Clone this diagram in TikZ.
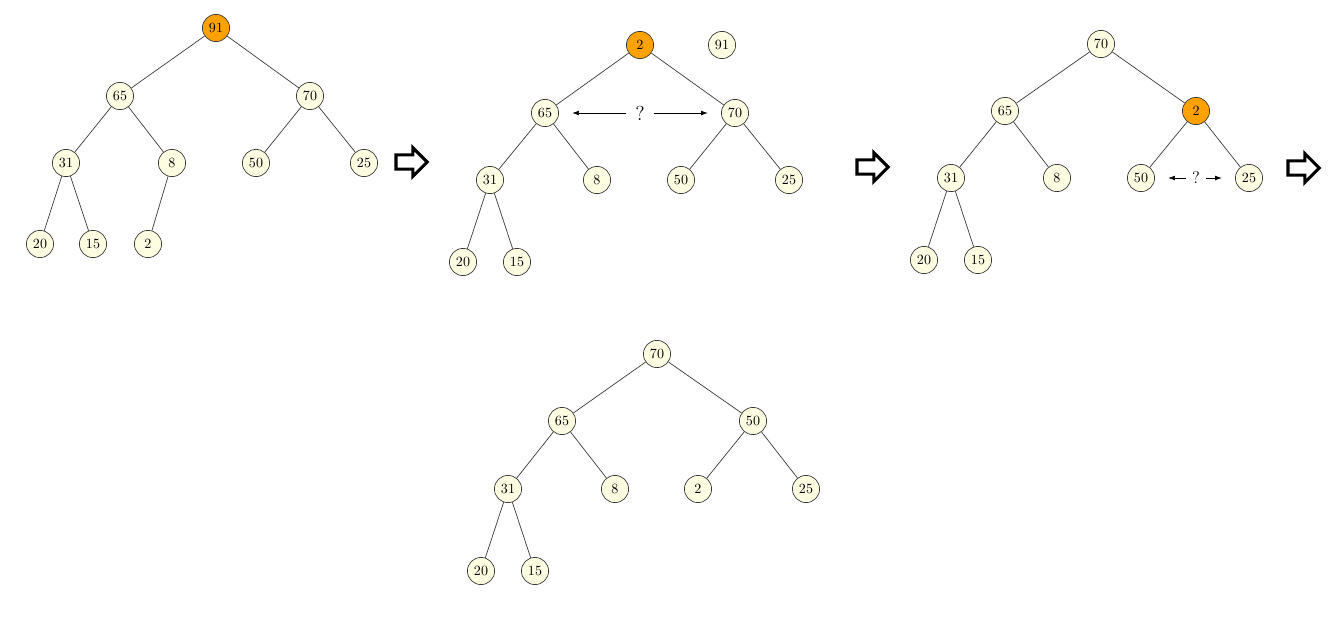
\documentclass[tikz,border=0pt]{standalone}
\usepackage{tikz}
\usetikzlibrary{arrows.meta,shapes.arrows}
\definecolor{heapCream}{HTML}{FDFDE2}
\definecolor{heapOrange}{HTML}{FFA200}
\definecolor{heapLine}{HTML}{3A3A3A}

\begin{document}
\begin{tikzpicture}[x=0.025cm,y=-0.025cm,
    key/.style={circle,draw=heapLine,line width=0.5pt,fill=heapCream,
                minimum size=0.68cm,inner sep=0pt},
    hot/.style={key,fill=heapOrange},
    link/.style={draw=heapLine,line width=0.5pt},
    probe/.style={-{Latex[length=0.17cm,width=0.12cm]},line width=0.5pt,
                  shorten >=0.33cm},
    bigarrow/.style={single arrow,draw=black,line width=2.2pt,fill=white,
                     minimum height=0.78cm,inner xsep=0pt,inner ysep=0.14cm,
                     single arrow head extend=0.18cm}]
  \useasboundingbox (0,0) rectangle (1334,639);
  % step 1: remove the maximum
  \node[hot] (a91) at (216,28) {91};
  \node[key] (a65) at (120,96) {65};
  \node[key] (a70) at (310,96) {70};
  \node[key] (a31) at (66,163) {31};
  \node[key] (a8)  at (172,163) {8};
  \node[key] (a50) at (256,163) {50};
  \node[key] (a25) at (364,163) {25};
  \node[key] (a20) at (40,244) {20};
  \node[key] (a15) at (93,244) {15};
  \node[key] (a2)  at (148,244) {2};
  \draw[link] (a91) -- (a65) (a91) -- (a70) (a65) -- (a31) (a65) -- (a8)
              (a70) -- (a50) (a70) -- (a25) (a31) -- (a20) (a31) -- (a15)
              (a8) -- (a2);
  \node[bigarrow] (go1) at (408,162) {};
  % step 2: last leaf moved to the root
  \node[hot] (b2)  at (640,45) {2};
  \node[key] (b91) at (722,45) {91};
  \node[key] (b65) at (545,113) {65};
  \node[key] (b70) at (735,113) {70};
  \node[key] (b31) at (490,180) {31};
  \node[key] (b8)  at (597,180) {8};
  \node[key] (b50) at (681,180) {50};
  \node[key] (b25) at (789,180) {25};
  \node[key] (b20) at (463,262) {20};
  \node[key] (b15) at (517,262) {15};
  \draw[link] (b2) -- (b65) (b2) -- (b70) (b65) -- (b31) (b65) -- (b8)
              (b70) -- (b50) (b70) -- (b25) (b31) -- (b20) (b31) -- (b15);
  \node[font=\Large] (bq) at (640,113) {?};
  \draw[probe,shorten <=0.1cm] (bq) -- (b65);
  \draw[probe,shorten <=0.1cm] (bq) -- (b70);
  \node[bigarrow] (go2) at (869,167) {};
  % step 3: sift down
  \node[key] (c70) at (1101,44) {70};
  \node[key] (c65) at (1005,111) {65};
  \node[hot] (c2)  at (1196,111) {2};
  \node[key] (c31) at (951,178) {31};
  \node[key] (c8)  at (1057,178) {8};
  \node[key] (c50) at (1141,178) {50};
  \node[key] (c25) at (1249,178) {25};
  \node[key] (c20) at (924,260) {20};
  \node[key] (c15) at (978,260) {15};
  \draw[link] (c70) -- (c65) (c70) -- (c2) (c65) -- (c31) (c65) -- (c8)
              (c2) -- (c50) (c2) -- (c25) (c31) -- (c20) (c31) -- (c15);
  \node[font=\large] (cq) at (1196,178) {?};
  \draw[probe,shorten <=0.03cm] (cq) -- (c50);
  \draw[probe,shorten <=0.03cm] (cq) -- (c25);
  \node[bigarrow] (go3) at (1300,168) {};
  % step 4: result
  \node[key] (d70) at (657,354) {70};
  \node[key] (d65) at (562,421) {65};
  \node[key] (d50) at (753,421) {50};
  \node[key] (d31) at (508,489) {31};
  \node[key] (d8)  at (615,489) {8};
  \node[key] (d2)  at (698,489) {2};
  \node[key] (d25) at (806,489) {25};
  \node[key] (d20) at (481,571) {20};
  \node[key] (d15) at (535,571) {15};
  \draw[link] (d70) -- (d65) (d70) -- (d50) (d65) -- (d31) (d65) -- (d8)
              (d50) -- (d2) (d50) -- (d25) (d31) -- (d20) (d31) -- (d15);
\end{tikzpicture}
\end{document}
